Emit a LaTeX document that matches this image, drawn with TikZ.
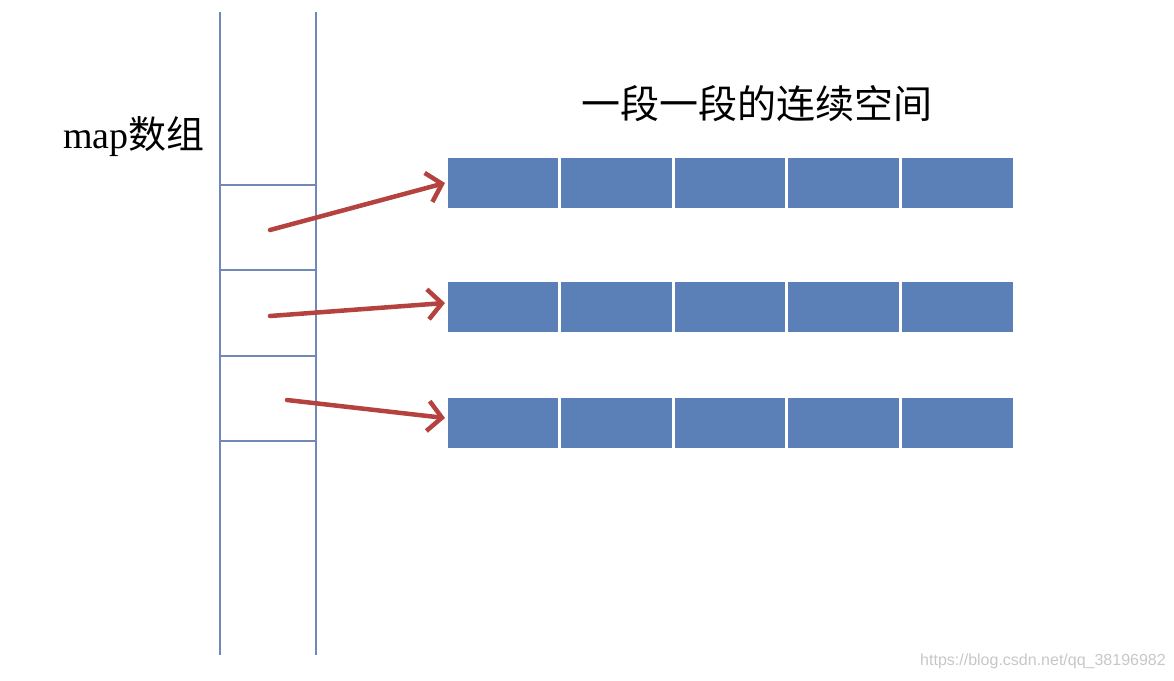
\documentclass[tikz,border=0pt]{standalone}
\usepackage{fontspec}
\setmainfont{Liberation Serif}
\setsansfont{Liberation Sans}
\newfontfamily\cjkfont{Noto Sans CJK SC}
\usetikzlibrary{arrows.meta,positioning}
\definecolor{cellBlue}{HTML}{5A80B7}
\definecolor{ptrRed}{HTML}{B4433F}
\definecolor{mapLine}{HTML}{7088B6}
\tikzset{
  cell/.style={rectangle, draw=white, line width=3pt, fill=cellBlue, minimum width=113.6pt, minimum height=53pt, inner sep=0pt, outer sep=0pt},
  mapline/.style={draw=mapLine, line width=1.6pt},
  pointer/.style={-{Straight Barb[length=14pt,width=30pt]}, draw=ptrRed, line width=4.5pt, line cap=round},
  title/.style={font=\fontsize{39}{42}\selectfont, inner sep=0pt},
  watermark/.style={font=\sffamily\fontsize{16}{17}\selectfont, text=black!22, inner sep=0pt}
}

\begin{document}
\begin{tikzpicture}[x=1pt,y=-1pt]
\useasboundingbox (0,0) rectangle (1174,680);

% map array column
\draw[mapline] (220,12) -- (220,655);
\draw[mapline] (316,12) -- (316,655);
\foreach \y in {185,270,356,441} {
  \draw[mapline] (220,\y) -- (316,\y);
}
\node[title, font=\fontsize{38}{40}\selectfont] (mapLabel) at (134,137) {map{\cjkfont 数组}};

% segments of contiguous space
\node[title] (segLabel) at (757,104) {\cjkfont 一段一段的连续空间};
\foreach \r/\y in {1/183,2/307,3/423} {
  \foreach \c in {1,...,5} {
    \node[cell] (row\r cell\c) at ({446+113.6*(\c-0.5)},\y) {};
  }
}

% pointers from map slots
\coordinate (slotA) at (270,230);
\coordinate (slotB) at (270,316);
\coordinate (slotC) at (287,400);
\draw[pointer] (slotA) -- ([xshift=-1pt]row1cell1.west);
\draw[pointer] (slotB) -- ([xshift=-1pt,yshift=4pt]row2cell1.west);
\draw[pointer] (slotC) -- ([xshift=-1pt,yshift=5pt]row3cell1.west);

\node[watermark] (credit) at (1043,661) {https://blog.csdn.net/qq\_38196982};
\end{tikzpicture}
\end{document}
